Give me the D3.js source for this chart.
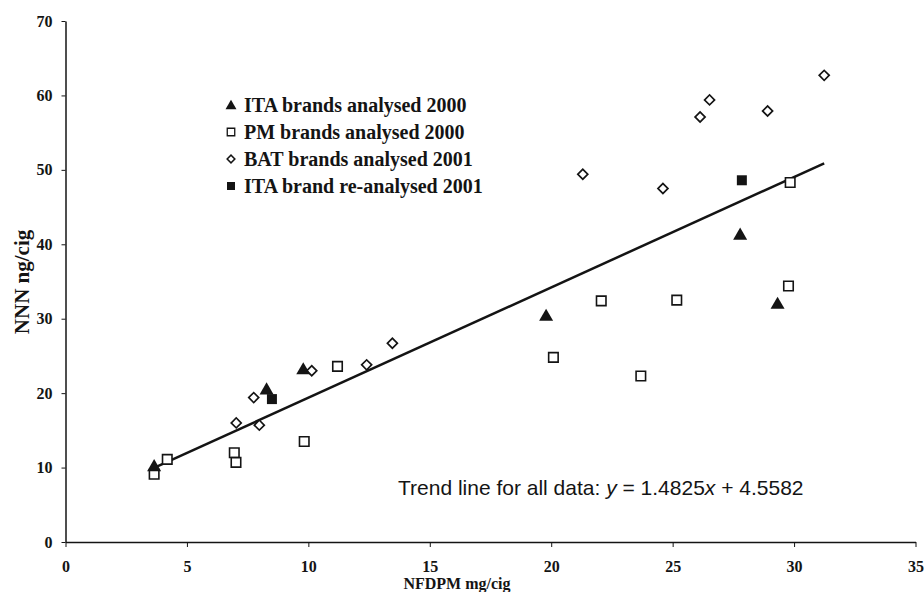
<!DOCTYPE html>
<html>
<head>
<meta charset="utf-8">
<script src="https://cdn.jsdelivr.net/npm/d3@7"></script>
<style>
  body { margin: 0; background: #fff; }
  svg { display: block; }
</style>
</head>
<body>
<div id="chart"></div>
<script>
// values
const itaX = [3.65, 8.28, 9.79, 19.79, 27.78, 29.32];
const itaY = [10.2, 20.5, 23.2, 30.4, 41.3, 32.0];

const pmX = [3.65, 4.19, 6.95, 7.02, 9.83, 11.2, 20.09, 22.06, 23.69, 25.17, 29.77, 29.84];
const pmY = [9.1, 11.1, 12.0, 10.7, 13.5, 23.6, 24.8, 32.4, 22.3, 32.5, 34.4, 48.3];

const batX = [7.03, 7.75, 7.98, 10.14, 12.4, 13.46, 21.3, 24.6, 26.13, 26.52, 28.91, 31.24];
const batY = [16.0, 19.4, 15.7, 23.0, 23.8, 26.7, 49.4, 47.5, 57.1, 59.4, 57.9, 62.7];

const reX = [8.5, 27.85];
const reY = [19.2, 48.6];

const trendSlope = 1.4825;
const trendIntercept = 4.5582;
const trendRange = [3.6, 31.24];

const xTicks = [0, 5, 10, 15, 20, 25, 30, 35];
const yTicks = [0, 10, 20, 30, 40, 50, 60, 70];

const legendLabels = [
  'ITA brands analysed 2000',
  'PM brands analysed 2000',
  'BAT brands analysed 2001',
  'ITA brand re-analysed 2001'
];

const W = 924, H = 592;
const ink = '#141414';
const serif = '"Liberation Serif", "Times New Roman", serif';

const svg = d3.select('#chart')
  .append('svg')
  .attr('width', W)
  .attr('height', H);

const x = d3.scaleLinear().domain([0, 35]).range([65.5, 915.5]);
const y = d3.scaleLinear().domain([0, 70]).range([542, 21]);

// axes
const xAxis = svg.append('g')
  .attr('transform', `translate(0,${y(0)})`)
  .call(d3.axisBottom(x).tickValues(xTicks).tickSize(5).tickPadding(14).tickSizeOuter(0));
const yAxis = svg.append('g')
  .attr('transform', `translate(${x(0)},0)`)
  .call(d3.axisLeft(y).tickValues(yTicks).tickSize(4).tickPadding(9).tickSizeOuter(0));

[xAxis, yAxis].forEach(a => {
  a.select('.domain').attr('stroke', ink).attr('stroke-width', 1.5);
  a.selectAll('.tick line').attr('stroke', ink).attr('stroke-width', 1);
  a.selectAll('.tick text')
    .attr('fill', ink)
    .attr('font-family', serif)
    .attr('font-weight', 'bold')
    .attr('font-size', 16);
});

// axis titles
svg.append('text')
  .attr('x', 457)
  .attr('y', 589)
  .attr('text-anchor', 'middle')
  .attr('font-family', serif)
  .attr('font-weight', 'bold')
  .attr('font-size', 16)
  .attr('fill', ink)
  .text('NFDPM mg/cig');

svg.append('text')
  .attr('transform', 'translate(29,282) rotate(-90)')
  .attr('text-anchor', 'middle')
  .attr('font-family', serif)
  .attr('font-weight', 'bold')
  .attr('font-size', 21)
  .attr('fill', ink)
  .text('NNN ng/cig');

// trend line
svg.append('line')
  .attr('x1', x(trendRange[0]))
  .attr('y1', y(trendSlope * trendRange[0] + trendIntercept))
  .attr('x2', x(trendRange[1]))
  .attr('y2', y(trendSlope * trendRange[1] + trendIntercept))
  .attr('stroke', ink)
  .attr('stroke-width', 2.5);

// marker shapes
const tri = d3.symbol().type(d3.symbolTriangle);
const sq = d3.symbol().type(d3.symbolSquare);

function drawSeries(xs, ys, kind) {
  const pts = xs.map((v, i) => ({ x: v, y: ys[i] }));
  const g = svg.append('g');
  const sel = g.selectAll('path').data(pts).join('path');
  if (kind === 'tri') {
    sel.attr('d', tri.size(85)())
      .attr('transform', d => `translate(${x(d.x)},${y(d.y) + 1})`)
      .attr('fill', ink);
  } else if (kind === 'open') {
    sel.attr('d', sq.size(90)())
      .attr('transform', d => `translate(${x(d.x)},${y(d.y)})`)
      .attr('fill', '#fff').attr('stroke', ink).attr('stroke-width', 1.6);
  } else if (kind === 'diamond') {
    sel.attr('d', sq.size(50)())
      .attr('transform', d => `translate(${x(d.x)},${y(d.y)}) rotate(45)`)
      .attr('fill', '#fff').attr('stroke', ink).attr('stroke-width', 1.7);
  } else {
    sel.attr('d', sq.size(100)())
      .attr('transform', d => `translate(${x(d.x)},${y(d.y)})`)
      .attr('fill', ink);
  }
}

drawSeries(pmX, pmY, 'open');
drawSeries(batX, batY, 'diamond');
drawSeries(itaX, itaY, 'tri');
drawSeries(reX, reY, 'filled');

// legend
const kinds = ['tri', 'open', 'diamond', 'filled'];
const legend = svg.append('g').attr('transform', 'translate(231,105)');
legendLabels.forEach((label, i) => {
  const row = legend.append('g').attr('transform', `translate(0,${i * 27})`);
  const k = kinds[i];
  const m = row.append('path');
  if (k === 'tri') m.attr('d', tri.size(52)()).attr('transform', 'translate(0,1)').attr('fill', ink);
  else if (k === 'open') m.attr('d', sq.size(56)()).attr('fill', '#fff').attr('stroke', ink).attr('stroke-width', 1.3);
  else if (k === 'diamond') m.attr('d', sq.size(30)()).attr('transform', 'rotate(45)').attr('fill', '#fff').attr('stroke', ink).attr('stroke-width', 1.5);
  else m.attr('d', sq.size(64)()).attr('fill', ink);
  row.append('text')
    .attr('x', 13)
    .attr('y', 6.5)
    .attr('font-family', serif)
    .attr('font-weight', 'bold')
    .attr('font-size', 20)
    .attr('fill', ink)
    .text(label);
});

// equation
const eq = svg.append('text')
  .attr('x', 398)
  .attr('y', 495)
  .attr('font-family', '"Liberation Sans", Arial, sans-serif')
  .attr('font-size', 21)
  .attr('fill', ink);
eq.append('tspan').text('Trend line for all data: ');
eq.append('tspan').attr('font-style', 'italic').text('y');
eq.append('tspan').text(` = ${trendSlope}`);
eq.append('tspan').attr('font-style', 'italic').text('x');
eq.append('tspan').text(` + ${trendIntercept}`);
</script>
</body>
</html>
